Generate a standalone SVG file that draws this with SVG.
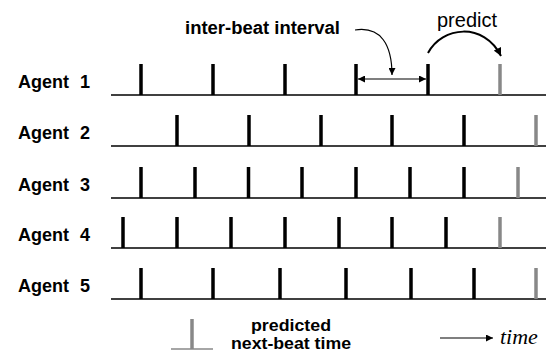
<svg xmlns="http://www.w3.org/2000/svg" width="548" height="351" viewBox="0 0 548 351">
  <style>
    .label { font-family: "Liberation Sans", Arial, sans-serif; font-weight: bold; font-size: 18px; fill: #000; word-spacing: 6px; }
    .note { font-family: "Liberation Sans", Arial, sans-serif; font-weight: bold; font-size: 18px; fill: #000; }
    .legend { font-family: "Liberation Sans", Arial, sans-serif; font-weight: bold; font-size: 16px; fill: #000; }
    .plain { font-family: "Liberation Sans", Arial, sans-serif; font-size: 20px; fill: #000; }
    .time { font-family: "Liberation Serif", "Times New Roman", serif; font-style: italic; font-size: 22px; fill: #000; }
    .axis { stroke: #000; stroke-width: 1.3; fill: none; }
    .beat { stroke: #000; stroke-width: 3.5; }
    .pred { stroke: #888; stroke-width: 3.5; }
    .thin { stroke: #000; stroke-width: 1.2; fill: none; }
    .thick { stroke: #000; stroke-width: 2; fill: none; }
  </style>
  <defs>
    <marker id="head" viewBox="0 0 10 10" refX="10" refY="5" markerWidth="9" markerHeight="7" markerUnits="userSpaceOnUse" orient="auto-start-reverse">
      <path d="M0,0 L10,5 L0,10 z" fill="#000"/>
    </marker>
    <marker id="headBig" viewBox="0 0 10 10" refX="10" refY="5" markerWidth="10" markerHeight="8" markerUnits="userSpaceOnUse" orient="auto">
      <path d="M0,0 L10,5 L0,10 z" fill="#000"/>
    </marker>
  </defs>

  <!-- agent rows: label, time axis, beats, predicted beat -->
  <g id="agent1">
    <text class="label" x="18" y="88">Agent 1</text>
    <line class="axis" x1="111" y1="95" x2="546" y2="95"/>
    <g class="beat">
      <line x1="141" y1="64" x2="141" y2="95"/>
      <line x1="213" y1="64" x2="213" y2="95"/>
      <line x1="285" y1="64" x2="285" y2="95"/>
      <line x1="356" y1="64" x2="356" y2="95"/>
      <line x1="428" y1="64" x2="428" y2="95"/>
    </g>
    <line class="pred" x1="500" y1="64" x2="500" y2="95"/>
  </g>

  <g id="agent2">
    <text class="label" x="18" y="139">Agent 2</text>
    <line class="axis" x1="111" y1="146" x2="546" y2="146"/>
    <g class="beat">
      <line x1="177" y1="115" x2="177" y2="146"/>
      <line x1="249" y1="115" x2="249" y2="146"/>
      <line x1="321" y1="115" x2="321" y2="146"/>
      <line x1="392" y1="115" x2="392" y2="146"/>
      <line x1="464" y1="115" x2="464" y2="146"/>
    </g>
    <line class="pred" x1="536" y1="115" x2="536" y2="146"/>
  </g>

  <g id="agent3">
    <text class="label" x="18" y="191">Agent 3</text>
    <line class="axis" x1="111" y1="198" x2="546" y2="198"/>
    <g class="beat">
      <line x1="141" y1="167" x2="141" y2="198"/>
      <line x1="195" y1="167" x2="195" y2="198"/>
      <line x1="248.5" y1="167" x2="248.5" y2="198"/>
      <line x1="302" y1="167" x2="302" y2="198"/>
      <line x1="356" y1="167" x2="356" y2="198"/>
      <line x1="410" y1="167" x2="410" y2="198"/>
      <line x1="464" y1="167" x2="464" y2="198"/>
    </g>
    <line class="pred" x1="518" y1="167" x2="518" y2="198"/>
  </g>

  <g id="agent4">
    <text class="label" x="18" y="241">Agent 4</text>
    <line class="axis" x1="111" y1="248" x2="546" y2="248"/>
    <g class="beat">
      <line x1="123" y1="217" x2="123" y2="248"/>
      <line x1="177" y1="217" x2="177" y2="248"/>
      <line x1="231" y1="217" x2="231" y2="248"/>
      <line x1="285" y1="217" x2="285" y2="248"/>
      <line x1="339" y1="217" x2="339" y2="248"/>
      <line x1="392" y1="217" x2="392" y2="248"/>
      <line x1="446" y1="217" x2="446" y2="248"/>
    </g>
    <line class="pred" x1="500" y1="217" x2="500" y2="248"/>
  </g>

  <g id="agent5">
    <text class="label" x="18" y="292">Agent 5</text>
    <line class="axis" x1="111" y1="299" x2="546" y2="299"/>
    <g class="beat">
      <line x1="141" y1="268" x2="141" y2="299"/>
      <line x1="213" y1="268" x2="213" y2="299"/>
      <line x1="280" y1="268" x2="280" y2="299"/>
      <line x1="346" y1="268" x2="346" y2="299"/>
      <line x1="411" y1="268" x2="411" y2="299"/>
      <line x1="474" y1="268" x2="474" y2="299"/>
    </g>
    <line class="pred" x1="536" y1="268" x2="536" y2="299"/>
  </g>

  <!-- annotations -->
  <g id="interval-label">
    <text class="note" x="185" y="34" textLength="155" lengthAdjust="spacingAndGlyphs">inter-beat interval</text>
  </g>
  <g id="predict-label">
    <text class="plain" x="437" y="27">predict</text>
  </g>

  <!-- legend -->
  <g id="legend-tick">
    <line class="pred" x1="192" y1="319" x2="192" y2="349"/>
    <line stroke="#888" stroke-width="1.3" x1="171" y1="349" x2="213" y2="349"/>
  </g>
  <g id="legend-text">
    <text class="legend" x="291" y="331" text-anchor="middle" textLength="80" lengthAdjust="spacingAndGlyphs">predicted</text>
    <text class="legend" x="291" y="349" text-anchor="middle" textLength="120" lengthAdjust="spacingAndGlyphs">next-beat time</text>
  </g>
  <g id="time-axis">
    <line class="thin" x1="440" y1="338" x2="493" y2="338" marker-end="url(#head)"/>
    <text class="time" x="500" y="344">time</text>
  </g>

  <!-- connectors -->
  <g id="connectors">
    <line class="thin" x1="358" y1="79" x2="426" y2="79" marker-start="url(#head)" marker-end="url(#head)"/>
    <path class="thin" d="M355,30 C381,26 392,45 392,75" marker-end="url(#head)"/>
    <path class="thick" d="M428,53 C442,26 484,22 501,56" marker-end="url(#headBig)"/>
  </g>
</svg>
